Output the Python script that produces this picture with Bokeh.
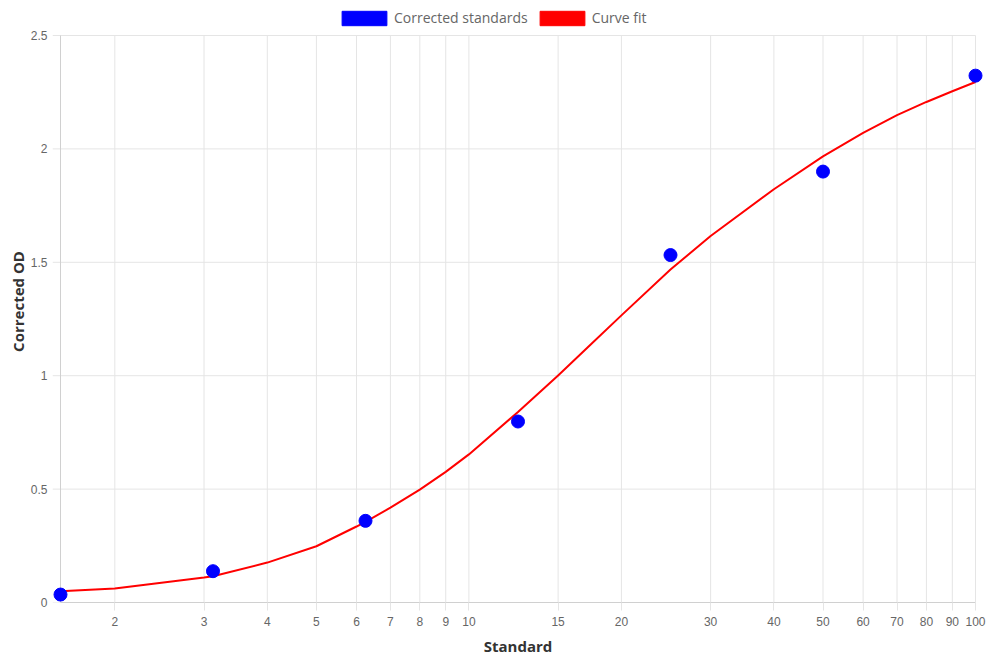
import math
from bokeh.plotting import figure
from bokeh.models import FixedTicker, Legend, LegendItem, ColumnDataSource
from bokeh.embed import file_html
from bokeh.resources import INLINE

# Data
std_x = [1.5625, 3.125, 6.25, 12.5, 25, 50, 100]
std_y = [0.035, 0.138, 0.360, 0.798, 1.532, 1.900, 2.323]

fit_x = [1.5625, 2, 3, 3.125, 4, 5, 6, 6.25, 7, 8, 9, 10, 12.5, 15, 17.25, 20, 25, 30, 40,
         50, 60, 70, 80, 90, 100]
fit_y = [0.050, 0.062, 0.110, 0.116, 0.176, 0.248, 0.335, 0.356, 0.418, 0.498, 0.576, 0.653,
         0.840, 1.001, 1.130, 1.266, 1.468, 1.616, 1.822, 1.967, 2.071, 2.149, 2.207, 2.254, 2.295]

x_ticks = [2, 3, 4, 5, 6, 7, 8, 9, 10, 15, 20, 30, 40, 50, 60, 70, 80, 90, 100]
y_ticks = [0, 0.5, 1, 1.5, 2, 2.5]

TICK_FONT = "Liberation Sans"
TITLE_FONT = "Open Sans"
GRID = "#e5e5e5"
AXIS = "#d0d0d0"

# layout (pixels)
W, H = 990, 660
AX_LEFT, AX_RIGHT, AX_TOP, AX_BOTTOM = 60, 975, 35, 602
PAD = 8  # room so that edge markers are not clipped

x_lo, x_hi = min(std_x), max(std_x)
y_lo, y_hi = y_ticks[0], y_ticks[-1]
px_per_dec = (AX_RIGHT - AX_LEFT) / (math.log10(x_hi) - math.log10(x_lo))
pad_dec = PAD / px_per_dec
rx0 = 10 ** (math.log10(x_lo) - pad_dec)
rx1 = 10 ** (math.log10(x_hi) + pad_dec)
ry1 = y_lo + (y_hi - y_lo) * (AX_BOTTOM - 0) / (AX_BOTTOM - AX_TOP)

p = figure(width=W, height=H, x_axis_type="log",
           x_range=(rx0, rx1), y_range=(y_lo, ry1),
           output_backend="svg", toolbar_location=None,
           min_border_left=AX_LEFT - PAD, min_border_right=W - AX_RIGHT - PAD,
           min_border_top=0, min_border_bottom=H - AX_BOTTOM)
p.outline_line_color = None
p.background_fill_color = "white"
p.xgrid.visible = False
p.ygrid.visible = False

# grid lines (with the 8px ticks on the left), limited to the data extent
p.segment(x0=[rx0] * len(y_ticks), x1=[x_hi] * len(y_ticks), y0=y_ticks, y1=y_ticks,
          line_color=GRID, line_width=1)
p.segment(x0=x_ticks, x1=x_ticks, y0=[y_lo] * len(x_ticks), y1=[y_hi] * len(x_ticks),
          line_color=GRID, line_width=1)
# left axis line
p.segment(x0=[x_lo], x1=[x_lo], y0=[y_lo], y1=[y_hi], line_color=AXIS, line_width=1)

fit_r = p.line(fit_x, fit_y, line_color="#ff0000", line_width=2, line_join="round")
pts_r = p.scatter(std_x, std_y, size=13, fill_color="#0000ff", line_color="#0000ff")

# legend swatches (boxes), data placed outside the visible range
off = ColumnDataSource(dict(left=[rx0 / 100], right=[rx0 / 90], top=[-1], bottom=[-2]))
blue_box = p.quad(left="left", right="right", top="top", bottom="bottom", source=off,
                  fill_color="#0000ff", line_color="#0000ff")
red_box = p.quad(left="left", right="right", top="top", bottom="bottom", source=off,
                 fill_color="#ff0000", line_color="#ff0000")

# Bokeh insets area swatches by 10% on each side
legend = Legend(items=[LegendItem(label="Corrected standards", renderers=[blue_box]),
                       LegendItem(label="Curve fit", renderers=[red_box])],
                orientation="horizontal",
                location=(336 - (AX_LEFT - PAD), AX_BOTTOM - 27),
                glyph_width=56, glyph_height=18, label_text_font=TITLE_FONT,
                label_text_font_size="14px", label_text_color="#666666",
                label_standoff=2, spacing=6, padding=0, margin=0,
                border_line_color=None, background_fill_alpha=0,
                label_height=18)
p.add_layout(legend)

# x axis
xa = p.xaxis[0]
xa.bounds = (x_lo, x_hi)
xa.ticker = FixedTicker(ticks=x_ticks, minor_ticks=[])
xa.major_label_overrides = {float(t): str(t) for t in x_ticks}
xa.axis_label = "Standard"
xa.axis_label_text_font = TITLE_FONT
xa.axis_label_text_font_style = "bold"
xa.axis_label_text_font_size = "15px"
xa.axis_label_text_color = "#333333"
xa.axis_label_standoff = 7
xa.major_label_text_font = TICK_FONT
xa.major_label_text_font_size = "12px"
xa.major_label_text_color = "#666666"
xa.major_label_standoff = 6
xa.major_tick_out = 8
xa.major_tick_in = 0
xa.major_tick_line_color = GRID
xa.minor_tick_line_color = None
xa.axis_line_color = AXIS

# y axis: labels only, lines drawn above
ya = p.yaxis[0]
ya.bounds = (y_lo, y_hi)
ya.ticker = FixedTicker(ticks=y_ticks, minor_ticks=[])
ya.major_label_overrides = {float(t): ("%g" % t) for t in y_ticks}
ya.axis_label = "Corrected OD"
ya.axis_label_text_font = TITLE_FONT
ya.axis_label_text_font_style = "bold"
ya.axis_label_text_font_size = "15px"
ya.axis_label_text_color = "#333333"
ya.axis_label_standoff = 0
ya.major_label_text_font = TICK_FONT
ya.major_label_text_font_size = "12px"
ya.major_label_text_color = "#666666"
ya.major_label_standoff = 5
ya.major_tick_out = 0
ya.major_tick_in = 0
ya.major_tick_line_color = None
ya.minor_tick_line_color = None
ya.axis_line_color = None

open("out.html", "w").write(file_html(p, INLINE))
